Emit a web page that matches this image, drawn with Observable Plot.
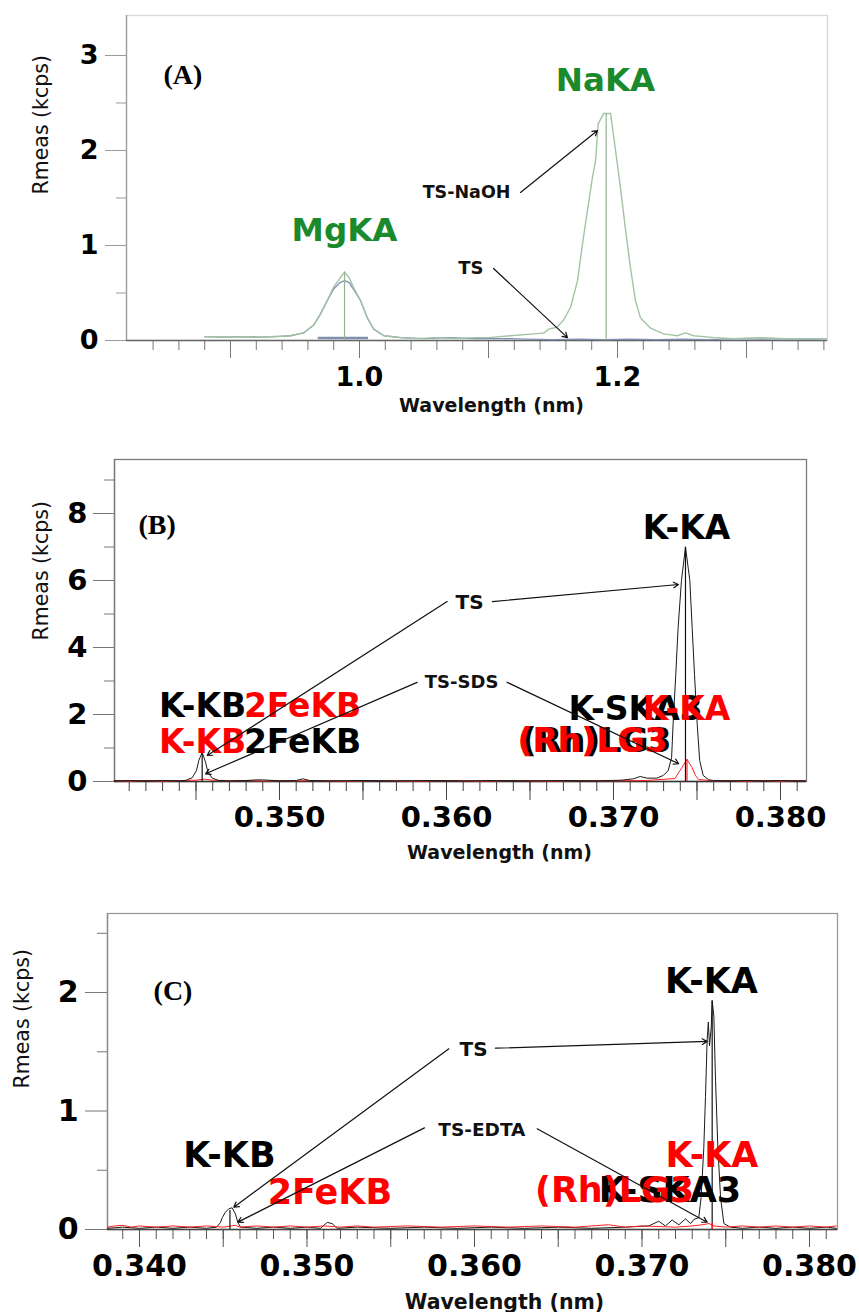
<!DOCTYPE html>
<html><head><meta charset="utf-8">
<script src="https://cdn.jsdelivr.net/npm/d3@7"></script>
<script src="https://cdn.jsdelivr.net/npm/@observablehq/plot@0.6"></script>
<style>
html,body{margin:0;padding:0;background:#fff;}
#root{position:relative;width:859px;height:1312px;overflow:hidden;background:#fff;}
#root > div{position:absolute;left:0;}
</style></head>
<body><div id="root"><div id="pa" style="top:0px"></div><div id="pb" style="top:425px"></div><div id="pc" style="top:865px"></div></div>
<script>
// ================= Panel A =================
// [wavelength (nm), Rmeas (kcps)]
const aTsNaoh = [[0.880,0.04],[0.890,0.04],[0.900,0.035],[0.910,0.04],[0.920,0.035],[0.929,0.04],[0.940,0.045],[0.9465,0.05],[0.9566,0.08],[0.9643,0.16],[0.9698,0.28],[0.975,0.42],[0.9798,0.56],[0.985,0.66],[0.9884,0.72],[0.992,0.66],[0.9953,0.56],[1.0008,0.42],[1.006,0.24],[1.011,0.12],[1.019,0.05],[1.032,0.03],[1.045,0.02],[1.060,0.03],[1.075,0.02],[1.090,0.03],[1.100,0.03],[1.117,0.05],[1.135,0.07],[1.143,0.08],[1.1465,0.12],[1.153,0.14],[1.158,0.21],[1.1636,0.35],[1.169,0.63],[1.1729,1.02],[1.1767,1.37],[1.1806,1.72],[1.183,1.89],[1.185,2.28],[1.1893,2.39],[1.1946,2.39],[1.1985,2.0],[1.2023,1.61],[1.206,1.19],[1.210,0.77],[1.2139,0.42],[1.2178,0.24],[1.2256,0.13],[1.2357,0.07],[1.2465,0.05],[1.2527,0.08],[1.259,0.05],[1.275,0.03],[1.290,0.02],[1.310,0.03],[1.330,0.02],[1.350,0.02],[1.362,0.02]];
const aTs = [[0.880,0.04],[0.895,0.035],[0.910,0.04],[0.925,0.035],[0.935,0.04],[0.9465,0.05],[0.9566,0.08],[0.9643,0.16],[0.9698,0.28],[0.975,0.42],[0.9798,0.54],[0.985,0.61],[0.9884,0.63],[0.992,0.61],[0.9953,0.54],[1.0008,0.42],[1.006,0.24],[1.011,0.12],[1.019,0.05],[1.032,0.03],[1.050,0.02],[1.070,0.03],[1.090,0.02],[1.110,0.02],[1.130,0.015],[1.150,0.01],[1.170,0.015],[1.190,0.01],[1.210,0.015],[1.230,0.01],[1.250,0.015],[1.270,0.01],[1.290,0.02],[1.310,0.015],[1.330,0.02],[1.350,0.015],[1.362,0.02]];
const aMarkers = [[0.9884,0.72],[1.1912,2.39]];
const aBand = [[0.968,1.007,0.025]];
const aPeakLabels = [{t:"MgKA",x:0.9884,y:1.05,c:"#1a8a2c"},{t:"NaKA",x:1.1907,y:2.63,c:"#1a8a2c"}];
const aNotes = [{t:"TS-NaOH",x:1.117,y:1.505},{t:"TS",x:1.0961,y:0.705}];
const aArrows = [[1.1248,1.558,1.1845,2.21],[1.1039,0.758,1.1612,0.03]];
const aXTicks = [1.0,1.2], aXTickLabels = ["1.0","1.2"];
const aYTicks = [0,1,2,3], aYTickLabels = ["0","1","2","3"];

// ================= Panel B =================
const bTs = [[0.3401,0.02],[0.341,0.03],[0.342,0.02],[0.343,0.03],[0.344,0.02],[0.34437,0.03],[0.34477,0.11],[0.34503,0.33],[0.34517,0.63],[0.34537,0.875],[0.34557,0.58],[0.34571,0.28],[0.34597,0.1],[0.34637,0.03],[0.347,0.02],[0.348,0.03],[0.3487,0.05],[0.3493,0.04],[0.350,0.02],[0.351,0.03],[0.3514,0.08],[0.3518,0.03],[0.353,0.02],[0.355,0.03],[0.357,0.02],[0.359,0.03],[0.361,0.02],[0.363,0.03],[0.365,0.02],[0.367,0.03],[0.369,0.02],[0.3705,0.04],[0.3712,0.08],[0.3716,0.15],[0.372,0.1],[0.37259,0.1],[0.37298,0.18],[0.37328,0.33],[0.37348,0.72],[0.37357,1.73],[0.37373,3.2],[0.37387,4.6],[0.37407,6.0],[0.37431,7.0],[0.37457,6.0],[0.37471,4.6],[0.37485,3.2],[0.37501,1.73],[0.37516,0.63],[0.37537,0.18],[0.3757,0.05],[0.376,0.03],[0.377,0.02],[0.378,0.03],[0.379,0.02],[0.380,0.03],[0.381,0.02],[0.3815,0.02]];
const bSds = [[0.3401,0.03],[0.341,0.01],[0.342,0.03],[0.343,0.01],[0.344,0.03],[0.345,0.04],[0.3455,0.07],[0.346,0.04],[0.347,0.02],[0.348,0.03],[0.349,0.01],[0.350,0.03],[0.351,0.02],[0.352,0.03],[0.354,0.01],[0.356,0.03],[0.358,0.01],[0.360,0.03],[0.362,0.01],[0.364,0.03],[0.366,0.01],[0.368,0.03],[0.370,0.02],[0.372,0.03],[0.37368,0.09],[0.37387,0.24],[0.3741,0.42],[0.3744,0.66],[0.3747,0.42],[0.37491,0.18],[0.3751,0.06],[0.376,0.02],[0.377,0.03],[0.378,0.01],[0.379,0.03],[0.380,0.01],[0.381,0.03],[0.3815,0.02]];
const bMarkersTs = [[0.34537,0.875],[0.37431,7.0]];
const bMarkersSds = [[0.3744,0.66]];
const bPeakLabels = [
  {t:"K-KA",x:0.37437,y:7.25,c:"#000"},
  {t:"K-KB",x:0.3454,y:1.92,c:"#000"},
  {t:"K-KB",x:0.3454,y:0.845,c:"#ff0000"},
  {t:"2FeKB",x:0.35138,y:1.92,c:"#ff0000"},
  {t:"2FeKB",x:0.35138,y:0.845,c:"#000"},
  {t:"K-SKA3",x:0.37132,y:1.85,c:"#000"},
  {t:"K-KA",x:0.37437,y:1.85,c:"#ff0000"},
  {t:"(Rh)LG3",x:0.36898,y:0.875,c:"#000"},
  {t:"(Rh)LG3",x:0.36874,y:0.875,c:"#ff0000"}
];
const bNotes = [{t:"TS",x:0.36222,y:5.16,s:20},{t:"TS-SDS",x:0.36311,y:2.78,s:18}];
const bArrows = [[0.36275,5.37,0.37389,5.88],[0.36004,5.37,0.34567,0.776],[0.35824,2.96,0.34557,0.23],[0.36363,2.96,0.37391,0.53]];
const bXTicks = [0.350,0.360,0.370,0.380], bXTickLabels = ["0.350","0.360","0.370","0.380"];
const bYTicks = [0,2,4,6,8], bYTickLabels = ["0","2","4","6","8"];

// ================= Panel C =================
const cTs = [[0.3381,0.01],[0.339,0.02],[0.340,0.01],[0.341,0.02],[0.342,0.01],[0.343,0.02],[0.344,0.01],[0.3446,0.02],[0.34484,0.06],[0.34494,0.1],[0.34513,0.146],[0.34533,0.175],[0.34553,0.183],[0.34573,0.13],[0.34587,0.06],[0.34603,0.02],[0.347,0.01],[0.348,0.02],[0.349,0.01],[0.350,0.02],[0.3508,0.01],[0.35121,0.06],[0.3515,0.05],[0.3518,0.01],[0.353,0.02],[0.355,0.01],[0.357,0.02],[0.359,0.01],[0.361,0.02],[0.363,0.01],[0.365,0.02],[0.367,0.01],[0.369,0.02],[0.3704,0.03],[0.371,0.07],[0.3714,0.03],[0.3718,0.08],[0.3722,0.04],[0.3726,0.09],[0.3729,0.05],[0.3731,0.085],[0.37339,0.1],[0.37353,0.27],[0.37369,0.69],[0.37379,1.12],[0.37389,1.6],[0.37396,1.75],[0.37403,1.55],[0.37413,1.7],[0.37419,1.93],[0.37429,1.8],[0.37439,1.26],[0.37453,0.69],[0.37469,0.27],[0.37489,0.05],[0.37528,0.02],[0.376,0.01],[0.377,0.02],[0.378,0.01],[0.379,0.02],[0.380,0.01],[0.381,0.02],[0.3816,0.01]];
const cEdta = [[0.3381,0.02],[0.3385,0.03],[0.339,0.035],[0.3395,0.02],[0.340,0.03],[0.341,0.02],[0.342,0.03],[0.343,0.02],[0.344,0.03],[0.345,0.02],[0.34573,0.035],[0.346,0.02],[0.347,0.03],[0.348,0.02],[0.349,0.03],[0.350,0.02],[0.351,0.03],[0.352,0.02],[0.353,0.03],[0.354,0.02],[0.356,0.03],[0.358,0.02],[0.360,0.03],[0.362,0.02],[0.364,0.03],[0.366,0.02],[0.368,0.04],[0.369,0.02],[0.370,0.03],[0.372,0.02],[0.373,0.03],[0.3736,0.04],[0.374,0.05],[0.3743,0.03],[0.375,0.02],[0.376,0.03],[0.377,0.02],[0.378,0.03],[0.379,0.02],[0.380,0.03],[0.381,0.02],[0.3816,0.03]];
const cMarkersTs = [[0.3454,0.16],[0.37419,1.93]];
const cMarkersEdta = [[0.3742,0.05]];
const cPeakLabels = [
  {t:"K-KA",x:0.37415,y:2.0,c:"#000"},
  {t:"K-KB",x:0.34537,y:0.526,c:"#000"},
  {t:"2FeKB",x:0.35137,y:0.217,c:"#ff0000"},
  {t:"K-KA",x:0.37418,y:0.526,c:"#ff0000"},
  {t:"K-SKA3",x:0.37167,y:0.23,c:"#000"},
  {t:"(Rh)LG3",x:0.36836,y:0.23,c:"#ff0000"}
];
const cNotes = [{t:"TS",x:0.36078,y:1.468,s:20},{t:"TS-EDTA",x:0.36304,y:0.793,s:18.5}];
const cArrows = [[0.36125,1.53,0.37389,1.587],[0.35847,1.525,0.34563,0.188],[0.35701,0.858,0.34587,0.062],[0.36374,0.85,0.37389,0.062]];
const cXTicks = [0.340,0.350,0.360,0.370,0.380], cXTickLabels = ["0.340","0.350","0.360","0.370","0.380"];
const cYTicks = [0,1,2], cYTickLabels = ["0","1","2"];

const FONT = "DejaVu Sans";

function panel(p) {
  const [mt, mr, mb, ml] = p.margin;
  const marks = [
    Plot.frame({stroke: p.frameColor, strokeWidth: 1.3}),
    Plot.ruleX([p.xDomain[0]], {stroke: p.leftColor, strokeWidth: 1.3}),
    Plot.axisX({ticks: p.xMinor, tickSize: 10, tickFormat: () => "", stroke: p.tickColor, label: null}),
    Plot.axisX({ticks: p.xMajor, tickSize: p.xMajorSize, tickFormat: () => "", stroke: p.tickColor, label: null}),
    Plot.axisY({ticks: p.yMinor, tickSize: 10, tickFormat: () => "", stroke: p.yTickColor, label: null}),
    Plot.axisY({ticks: p.yMajor, tickSize: p.yMajorSize, tickFormat: () => "", stroke: p.yTickColor, label: null}),
    Plot.ruleY([0], {stroke: p.axisColor, strokeWidth: 1.4})
  ];
  (p.bands || []).forEach(b => marks.push(Plot.ruleY([b], {x1: d => d[0], x2: d => d[1], y: d => d[2], stroke: "#8090b0", strokeWidth: 2.5})));
  p.series.forEach(s => marks.push(Plot.line(s.data, {x: d => d[0], y: d => d[1], stroke: s.color, strokeWidth: s.width || 1})));
  p.markers.forEach(m => marks.push(Plot.ruleX(m.data, {x: d => d[0], y1: 0, y2: d => d[1], stroke: m.color, strokeWidth: 1.2})));
  marks.push(Plot.text(p.xTicks, {x: d => d, text: (d, i) => p.xTickLabels[i], frameAnchor: "bottom", dy: p.xLabDy, fontSize: p.tickFont, fontWeight: "bold", fill: "#000", lineAnchor: "middle"}));
  marks.push(Plot.text(p.yTicks, {y: d => d, text: (d, i) => p.yTickLabels[i], frameAnchor: "left", textAnchor: "end", dx: p.yLabDx, fontSize: p.tickFont, fontWeight: "bold", fill: "#000", lineAnchor: "middle"}));
  marks.push(Plot.text(["Wavelength (nm)"], {frameAnchor: "bottom", dx: p.xTitle[0], dy: p.xTitle[1], fontSize: p.xTitle[2], fontWeight: "bold", fill: "#111", lineAnchor: "middle"}));
  marks.push(Plot.text(["Rmeas (kcps)"], {frameAnchor: "left", rotate: -90, dx: p.yTitle[0], dy: p.yTitle[1], fontSize: 20.5, fill: "#111", lineAnchor: "middle"}));
  p.peakLabels.forEach(l => marks.push(Plot.text([l], {x: "x", y: "y", text: "t", fill: l.c, fontSize: p.peakFont, fontWeight: "bold", lineAnchor: "bottom", textAnchor: "middle"})));
  p.notes.forEach(n => marks.push(Plot.text([n], {x: "x", y: "y", text: "t", fill: "#111", fontSize: n.s || p.noteFont, fontWeight: "bold", lineAnchor: "bottom", textAnchor: "end"})));
  marks.push(Plot.arrow(p.arrows, {x1: d => d[0], y1: d => d[1], x2: d => d[2], y2: d => d[3], stroke: "#111", strokeWidth: 1.2, headLength: 7}));
  marks.push(Plot.text([p.tag], {x: p.tag.x, y: p.tag.y, text: d => d.t, fontFamily: "Liberation Serif", fontWeight: "bold", fontSize: 28, fill: "#000", lineAnchor: "bottom", textAnchor: "start"}));
  return Plot.plot({
    width: 859, height: p.height,
    marginTop: mt, marginRight: mr, marginBottom: mb, marginLeft: ml,
    x: {domain: p.xDomain, label: null},
    y: {domain: p.yDomain, label: null},
    style: {fontFamily: FONT, background: "transparent", overflow: "visible"},
    marks
  });
}

const panelA = panel({
  height: 425, margin: [15, 32, 85, 126],
  xDomain: [0.81938, 1.36279], yDomain: [0, 3.421],
  xMinor: d3.range(0.84, 1.3601, 0.02), xMajor: [0.9, 1.0, 1.1, 1.2, 1.3], xMajorSize: 18,
  yMinor: [0.5, 1.5, 2.5], yMajor: [0, 1, 2, 3], yMajorSize: 21,
  frameColor: "#d8d8d8", leftColor: "#9a9a9a", tickColor: "#777", yTickColor: "#999", axisColor: "#666",
  xTicks: aXTicks, xTickLabels: aXTickLabels, yTicks: aYTicks, yTickLabels: aYTickLabels,
  tickFont: 27, xLabDy: 37, yLabDx: -28,
  xTitle: [14.5, 65, 19], yTitle: [-85, 16.5],
  bands: aBand,
  series: [{data: aTs, color: "#7f8fb0", width: 1.3}, {data: aTsNaoh, color: "#a3c4a3", width: 1.4}],
  markers: [{data: aMarkers, color: "#94b494"}],
  peakLabels: aPeakLabels, peakFont: 32.5,
  notes: [{...aNotes[0], s: 17.5}, {...aNotes[1], s: 18}], noteFont: 18,
  arrows: aArrows,
  tag: {t: "(A)", x: 0.848, y: 2.705}
});

const panelB = panel({
  height: 440, margin: [34, 53, 84, 114],
  xDomain: [0.34012, 0.381557], yDomain: [0, 9.612],
  xMinor: d3.range(0.341, 0.38101, 0.001), xMajor: d3.range(0.345, 0.38001, 0.005), xMajorSize: 19,
  yMinor: [1, 3, 5, 7, 9], yMajor: [0, 2, 4, 6, 8], yMajorSize: 21,
  frameColor: "#7a7a7a", leftColor: "#7a7a7a", tickColor: "#444", yTickColor: "#777", axisColor: "#333",
  xTicks: bXTicks, xTickLabels: bXTickLabels, yTicks: bYTicks, yTickLabels: bYTickLabels,
  tickFont: 29, xLabDy: 36, yLabDx: -27,
  xTitle: [39, 71, 19], yTitle: [-73, 20],
  series: [{data: bSds, color: "#ff2020", width: 1}, {data: bTs, color: "#1a1a1a", width: 1}],
  markers: [{data: bMarkersTs, color: "#111"}, {data: bMarkersSds, color: "#ff2020"}],
  peakLabels: bPeakLabels, peakFont: 33,
  notes: bNotes, noteFont: 18,
  arrows: bArrows,
  tag: {t: "(B)", x: 0.34156, y: 7.4}
});

const panelC = panel({
  height: 447, margin: [48, 22, 83, 107],
  xDomain: [0.33809, 0.381672], yDomain: [0, 2.667],
  xMinor: d3.range(0.339, 0.38101, 0.001), xMajor: d3.range(0.340, 0.38001, 0.005), xMajorSize: 18,
  yMinor: [0.5, 1.5, 2.5], yMajor: [0, 1, 2], yMajorSize: 22,
  frameColor: "#9a9a9a", leftColor: "#8a8a8a", tickColor: "#555", yTickColor: "#777", axisColor: "#444",
  xTicks: cXTicks, xTickLabels: cXTickLabels, yTicks: cYTicks, yTickLabels: cYTickLabels,
  tickFont: 30, xLabDy: 37, yLabDx: -29,
  xTitle: [32, 73, 20.5], yTitle: [-85, 17],
  series: [{data: cTs, color: "#1a1a1a", width: 1}, {data: cEdta, color: "#ff2020", width: 1}],
  markers: [{data: cMarkersTs, color: "#111"}, {data: cMarkersEdta, color: "#ff2020"}],
  peakLabels: cPeakLabels, peakFont: 35,
  notes: cNotes, noteFont: 18,
  arrows: cArrows,
  tag: {t: "(C)", x: 0.34084, y: 1.94}
});

document.getElementById("pa").appendChild(panelA);
document.getElementById("pb").appendChild(panelB);
document.getElementById("pc").appendChild(panelC);
</script>
</body></html>
